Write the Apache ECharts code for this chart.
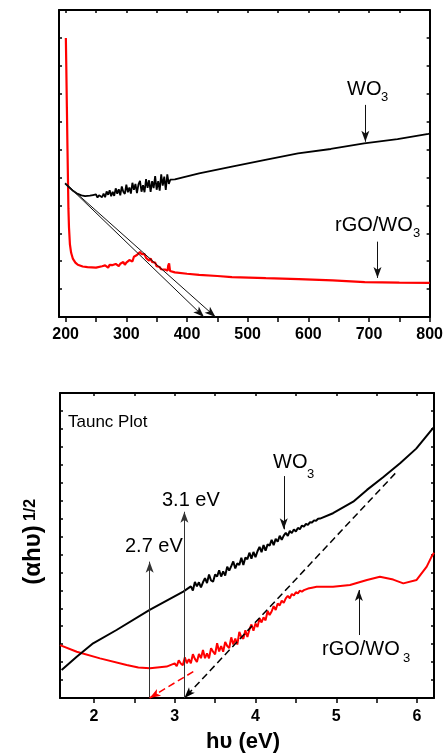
<!DOCTYPE html>
<html>
<head>
<meta charset="utf-8">
<script src="https://cdn.jsdelivr.net/npm/echarts@6/dist/echarts.min.js"></script>
<style>
html,body{margin:0;padding:0;background:#fff;}
#c{width:446px;height:755px;}
</style>
</head>
<body>
<div id="c"></div>
<script>
// ---------- Top panel data (wavelength, nm) ----------
const topWO3X = [199,205,212,218,226,232,
  240,242.5,245,247.5,250,252.5,255,257.5,260,262.5,265,267.5,270,272.5,275,277.5,280,282.5,285,287.5,290,292.5,295,297.5,
  300,302.5,305,307.5,310,312.5,315,317.5,320,322.5,325,327.5,330,332.5,335,337.5,340,342.5,345,347.5,350,352.5,355,357.5,
  360,362.5,365,367.5,370,372.5,
  380,420,474,529,583,637,692,747,798,800];
const topWO3Y = [4.79,4.66,4.52,4.43,4.36,4.33,
  4.35,4.28,4.37,4.31,4.39,4.28,4.36,4.43,4.29,4.42,4.29,4.50,4.38,4.54,4.33,4.49,4.34,4.61,4.42,4.58,4.36,4.68,4.49,4.41,
  4.74,4.47,4.64,4.42,4.81,4.56,4.77,4.44,4.75,4.88,4.49,4.72,4.47,4.94,4.63,4.90,4.48,4.87,4.62,5.05,4.56,4.87,4.53,5.11,
  4.71,5.03,4.55,5.11,4.77,4.92,
  4.93,5.15,5.39,5.63,5.86,6.02,6.22,6.37,6.56,6.57];
const topRGOX = [200.3,201,202,203,203.8,204.5,205.5,207,209,212,216,220,228,236,250,
  260,262.5,265,267.5,270,272.5,275,277.5,280,282.5,285,287.5,290,292.5,295,297.5,300,302.5,305,307.5,
  310,312.5,315,317.5,320,322.5,325,327.5,330,332.5,335,337.5,340,342.5,345,347.5,350,352.5,355,357.5,360,
  364,368,369,370.5,372,380,400,420,450,474,530,584,640,693,750,800];
const topRGOY = [10.0,9.0,7.5,6.0,4.9,3.9,3.2,2.6,2.3,2.08,1.95,1.87,1.81,1.79,1.77,
  1.82,1.77,1.85,1.80,1.77,1.87,1.80,1.86,1.79,1.90,1.85,1.82,1.91,1.85,1.97,1.87,1.95,1.90,2.04,2.01,
  1.99,2.16,2.10,2.22,2.18,2.33,2.25,2.18,2.25,2.12,2.15,2.02,2.10,1.97,1.90,1.95,1.82,1.85,1.79,1.71,1.76,
  1.70,1.66,1.84,1.92,1.65,1.60,1.55,1.51,1.47,1.43,1.39,1.36,1.31,1.25,1.23,1.22];
const topTicks = [200,250,300,350,400,450,500,550,600,650,700,750,800];
const topTickLabels = [200,300,400,500,600,700,800];
// tangent arrows (start -> end) and label arrows
const topTangents = [[199,4.8,428,0],[199,4.8,447,0]];
const topLabelArrows = [[694,7.6,694,6.28],[714,2.7,714,1.40]];

// ---------- Bottom panel data (Tauc plot) ----------
const botWO3X = [1.60,1.787,1.99,2.28,2.69,3.106,
  3.200,3.225,3.250,3.275,3.300,3.325,3.350,3.375,3.400,3.425,3.450,3.475,3.500,3.525,3.550,3.575,3.600,3.625,3.650,3.675,
  3.700,3.725,3.750,3.775,3.800,3.825,3.850,3.875,3.900,3.925,3.950,3.975,4.000,4.025,4.050,4.075,4.100,4.125,4.150,4.175,
  4.200,4.225,4.250,4.275,4.300,4.325,4.350,4.375,4.400,4.425,4.450,4.475,4.500,4.525,4.550,4.575,4.600,4.625,4.650,4.675,
  4.700,4.725,4.750,4.775,4.800,
  4.96,5.21,5.38,5.58,5.79,5.99,6.18,6.21];
const botWO3Y = [1.56,2.30,3.05,3.79,4.91,5.93,
  6.22,5.99,6.47,6.22,6.45,6.16,6.45,6.68,6.41,6.88,6.55,6.48,6.88,6.77,7.11,6.77,7.06,6.82,7.32,7.10,
  7.35,7.61,7.22,7.51,7.41,7.82,7.41,7.83,7.74,8.10,7.77,8.14,7.85,8.18,8.42,8.13,8.52,8.21,8.56,8.49,
  8.81,8.52,8.87,8.71,9.04,8.82,9.05,9.21,9.03,9.31,9.19,9.40,9.28,9.48,9.41,9.61,9.55,9.70,9.65,9.80,
  9.78,9.90,9.88,9.99,10.0,
  10.3,10.94,11.6,12.3,13.08,13.9,14.94,15.1];
const botRGOX = [1.58,1.787,2.075,2.405,2.55,2.694,2.90,
  3.000,3.025,3.050,3.075,3.100,3.125,3.150,3.175,3.200,3.225,3.250,3.275,3.300,3.325,3.350,3.375,3.400,3.425,3.450,3.475,
  3.500,3.525,3.550,3.575,3.600,3.625,3.650,3.675,3.700,3.725,3.750,3.775,3.800,3.825,3.850,3.875,3.900,3.925,3.950,3.975,
  4.000,4.025,4.050,4.075,4.100,4.125,4.150,4.175,4.200,4.225,4.250,4.275,4.300,4.325,4.350,4.375,4.400,4.425,4.450,4.475,
  4.500,4.525,4.550,4.575,4.600,
  4.65,4.70,4.757,4.96,5.17,5.38,5.54,5.705,5.83,5.995,6.12,6.18,6.21];
const botRGOY = [2.95,2.58,2.21,1.84,1.70,1.66,1.75,
  1.93,1.77,2.10,1.92,1.83,2.26,1.94,2.17,1.94,2.44,2.18,2.01,2.45,2.22,2.68,2.22,2.49,2.21,2.78,2.58,
  2.43,3.05,2.59,2.90,2.58,3.12,2.90,2.79,3.38,2.98,3.31,2.98,3.69,3.39,3.30,3.78,3.40,3.81,4.10,3.75,
  4.15,3.95,4.45,4.21,4.49,4.33,4.85,4.63,4.82,5.12,4.91,5.27,5.16,5.43,5.30,5.55,5.69,5.56,5.80,5.71,
  5.90,5.83,5.98,5.93,6.01,
  6.10,6.15,6.20,6.20,6.30,6.58,6.76,6.60,6.39,6.58,7.32,7.88,8.10];
const botTicks = [2,2.5,3,3.5,4,4.5,5,5.5,6];
const botTickLabels = [2,3,4,5,6];
const blackFit = [5.73,12.52,3.12,0];
const redFit = [3.23,1.47,2.69,0];
const gapArrows = [[2.69,0,2.69,7.6],[3.12,0,3.12,10.38]];
const botLabelArrows = [[4.35,12.37,4.35,9.40],[5.28,3.51,5.28,6.02]];

const FONT = '"Liberation Sans", Arial, Helvetica, sans-serif';
const zip = (xs, ys) => xs.map((x, i) => [x, ys[i]]);
const arrowPair = (a, color, width, type) => [
  {coord:[a[0],a[1]], symbol:'none', lineStyle:{color:color,width:width,type:type}},
  {coord:[a[2],a[3]], symbol:'arrow'}
];

const chart = echarts.init(document.getElementById('c'), null, {renderer:'canvas'});

function xAx(grid, min, max, ticks, labels, pos) {
  const bottom = pos === 'bottom';
  return {
    type:'value', gridIndex:grid, min:min, max:max, position:pos,
    axisLine:{show:true, onZero:false, lineStyle:{color:'#000', width:2}},
    axisTick:{show:true, inside:!bottom, length: bottom ? 5 : 3, customValues:ticks, lineStyle:{color:'#000', width:1.5}},
    axisLabel:{show:bottom, customValues:labels, color:'#000', fontWeight:'bold', fontSize:16, fontFamily:FONT, margin: grid===0 ? 10 : 11},
    splitLine:{show:false}
  };
}
function yAx(grid, max, pos) {
  return {
    type:'value', gridIndex:grid, min:0, max:max, interval:1, position:pos,
    axisLine:{show:true, onZero:false, lineStyle:{color:'#000', width:2}},
    axisTick:{show:true, inside:true, length:3, lineStyle:{color:'#000', width:1.5}},
    axisLabel:{show:false},
    splitLine:{show:false}
  };
}

const mlBase = {silent:true, symbolSize:[6,11], label:{show:false}, emphasis:{disabled:true}, animation:false};

function txt(x, y, text, size, opts) {
  opts = opts || {};
  return {
    type:'text', x:x, y:y, rotation: opts.rot || 0, z:100,
    style:{text:text, font:(opts.bold?'bold ':'') + size + 'px ' + FONT, fill:'#000',
      align: opts.align || 'left', verticalAlign:'middle',
      textAlign: opts.align || 'left', textVerticalAlign:'middle'}
  };
}

const option = {
  animation:false,
  backgroundColor:'#fff',
  grid:[
    {left:59, top:10, width:374, height:307},
    {left:60, top:393, width:374, height:305}
  ],
  xAxis:[
    xAx(0, 189, 800, topTicks, topTickLabels, 'bottom'),
    xAx(0, 189, 800, topTicks, topTickLabels, 'top'),
    xAx(1, 1.58, 6.21, botTicks, botTickLabels, 'bottom'),
    xAx(1, 1.58, 6.21, botTicks, botTickLabels, 'top')
  ],
  yAxis:[
    yAx(0, 11, 'left'), yAx(0, 11, 'right'),
    yAx(1, 17, 'left'), yAx(1, 17, 'right')
  ],
  series:[
    {type:'line', xAxisIndex:0, yAxisIndex:0, data:zip(topWO3X, topWO3Y), showSymbol:false, symbol:'none',
      lineStyle:{color:'#000', width:1.8}, z:3,
      markLine:Object.assign({}, mlBase, {data: topTangents.concat(topLabelArrows).map(a => arrowPair(a, '#111', 1, 'solid'))})},
    {type:'line', xAxisIndex:0, yAxisIndex:0, data:zip(topRGOX, topRGOY), showSymbol:false, symbol:'none',
      lineStyle:{color:'#ff0000', width:2.2}, z:2},
    {type:'line', xAxisIndex:2, yAxisIndex:2, data:zip(botWO3X, botWO3Y), showSymbol:false, symbol:'none',
      lineStyle:{color:'#000', width:2}, z:3,
      markLine:Object.assign({}, mlBase, {data: [
        arrowPair(blackFit, '#000', 1.5, [7,4]),
        arrowPair(gapArrows[0], '#333', 1, 'solid'),
        arrowPair(gapArrows[1], '#333', 1, 'solid'),
        arrowPair(botLabelArrows[0], '#111', 1, 'solid'),
        arrowPair(botLabelArrows[1], '#111', 1, 'solid')
      ]})},
    {type:'line', xAxisIndex:2, yAxisIndex:2, data:zip(botRGOX, botRGOY), showSymbol:false, symbol:'none',
      lineStyle:{color:'#ff0000', width:2}, z:2,
      markLine:Object.assign({}, mlBase, {data: [arrowPair(redFit, '#ff0000', 1.5, [7,4])].map(p => {p[1].itemStyle={color:'#ff0000'}; return p;})})}
  ],
  graphic:[
    txt(347, 89.5, 'WO', 20),
    txt(381, 97.5, '3', 13),
    txt(335, 225.5, 'rGO/WO', 20),
    txt(413, 233, '3', 13),
    txt(68, 422.5, 'Taunc Plot', 17),
    txt(273, 462, 'WO', 20),
    txt(307, 474, '3', 13),
    txt(162, 500, '3.1 eV', 20),
    txt(125, 546.5, '2.7 eV', 20),
    txt(322, 649, 'rGO/WO', 20),
    txt(403, 658, '3', 13),
    txt(243, 742, 'h\u03C5 (eV)', 22, {bold:true, align:'center'}),
    txt(33, 555, '(\u03B1h\u03C5)', 24, {bold:true, align:'center', rot:Math.PI/2}),
    txt(31, 510, '1/2', 16, {bold:true, align:'center', rot:Math.PI/2})
  ]
};
chart.setOption(option);
</script>
</body>
</html>
